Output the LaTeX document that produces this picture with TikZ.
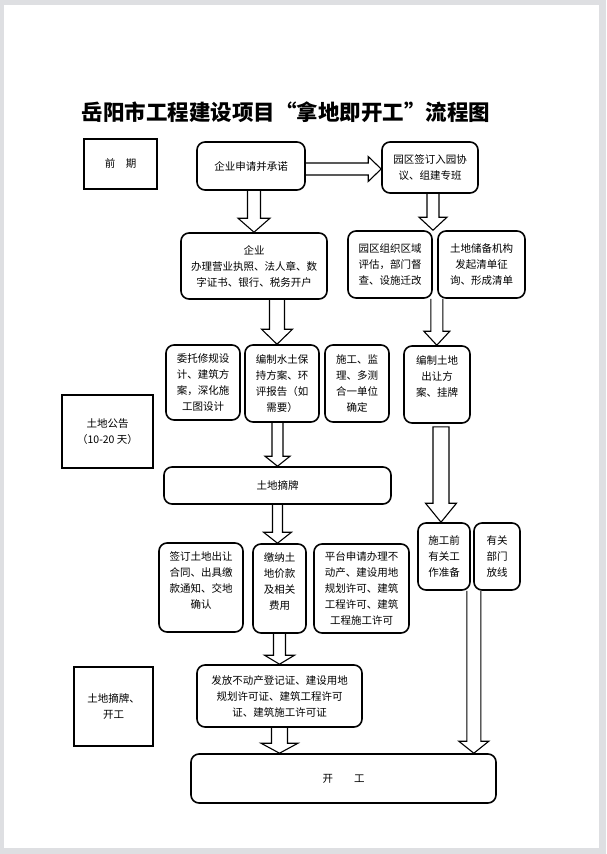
\documentclass[tikz,border=0pt]{standalone}
\usepackage{fontspec}
\setmainfont{Noto Sans CJK SC}
\usetikzlibrary{calc}
\definecolor{pageframe}{RGB}{222,223,226}
\tikzset{
  txt/.style={font=\fontsize{10.5}{16}\selectfont},
  rbox/.style={draw, line width=1.6pt, rounded corners=8pt, align=center, inner sep=0pt, txt},
  sbox/.style={draw, line width=1.4pt, align=center, inner sep=0pt, txt},
  wh/.style 2 args={minimum width=#1pt, minimum height=#2pt},
  blockarr/.style={draw, line width=1.1pt, line join=miter},
}
% text raised inside its box, box extent unchanged
\newcommand\upt[2]{\raisebox{#1}[\height][\depth]{\begin{tabular}{@{}c@{}}#2\end{tabular}}}
% vertical block arrow: start, tip, shaft half width, head half width, head length
\newcommand\vblk[6][]{%
  \draw[blockarr,#1] let \p1=(#2), \p2=(#3) in
  (\x1-#4pt,\y1) -- (\x1-#4pt,\y2+#6pt) -- (\x1-#5pt,\y2+#6pt) -- (\x1,\y2)
  -- (\x1+#5pt,\y2+#6pt) -- (\x1+#4pt,\y2+#6pt) -- (\x1+#4pt,\y1);}
\newcommand\vblkc[6][]{%
  \draw[blockarr,#1] let \p1=(#2), \p2=(#3) in
  (\x1-#4pt,\y1) -- (\x1-#4pt,\y2+#6pt) -- (\x1-#5pt,\y2+#6pt) -- (\x1,\y2)
  -- (\x1+#5pt,\y2+#6pt) -- (\x1+#4pt,\y2+#6pt) -- (\x1+#4pt,\y1) -- cycle;}
% horizontal block arrow
\newcommand\hblk[6][]{%
  \draw[blockarr,#1] let \p1=(#2), \p2=(#3) in
  (\x1,\y1+#4pt) -- (\x2-#6pt,\y1+#4pt) -- (\x2-#6pt,\y1+#5pt) -- (\x2,\y1)
  -- (\x2-#6pt,\y1-#5pt) -- (\x2-#6pt,\y1-#4pt) -- (\x1,\y1-#4pt);}
\begin{document}
\begin{tikzpicture}[x=1pt,y=-1pt]
\useasboundingbox (0,0) rectangle (606,854);
\fill[pageframe] (0,0) rectangle (606,854);
\fill[white] (4,5) rectangle (599,848);

\node[font=\fontsize{21.5}{24}\selectfont\bfseries] (title) at (286,112) {岳阳市工程建设项目“拿地即开工”流程图};

% left stage labels
\node[sbox, wh={73}{50}] (qq) at (120.5,164) {前\hspace{1em}期};
\node[sbox, wh={91}{73}] (tg) at (107.5,431.5) {土地公告\\（10-20 天）};
\node[sbox, wh={79}{79}] (zk) at (113.5,706.5) {土地摘牌、\\开工};

% row 1
\node[rbox, wh={108}{48}] (req) at (251,166) {企业申请并承诺};
\node[rbox, wh={96}{51}] (park) at (430,167.5) {园区签订入园协\\议、组建专班};

% row 2
\node[rbox, wh={146}{66}] (qy) at (254,266) {企业\\办理营业执照、法人章、数\\字证书、银行、税务开户};
\node[rbox, wh={84}{67}] (zone) at (390,264.5) {园区组织区域\\评估，部门督\\查、设施迁改};
\node[rbox, wh={87}{67}] (store) at (481.5,264.5) {土地储备机构\\发起清单征\\询、形成清单};

% row 3
\node[rbox, wh={74}{75}] (wt) at (203,382.5) {委托修规设\\计、建筑方\\案，深化施\\工图设计};
\node[rbox, wh={74}{77}] (sb) at (282,383.5) {编制水土保\\持方案、环\\评报告（如\\需要）};
\node[rbox, wh={64}{77}] (sj) at (357,383.5) {施工、监\\理、多测\\合一单位\\确定};
\node[rbox, wh={66}{77}] (cr) at (437,384.5) {\upt{7pt}{编制土地\\出让方\\案、挂牌}};

% row 4
\node[rbox, wh={227}{37}] (zp) at (277.5,485.5) {土地摘牌};

% row 5
\node[rbox, wh={84}{89}] (qd) at (201,587.5) {\upt{6pt}{签订土地出让\\合同、出具缴\\款通知、交地\\确认}};
\node[rbox, wh={53}{89}] (jn) at (279.5,588.5) {\upt{6pt}{缴纳土\\地价款\\及相关\\费用}};
\node[rbox, wh={95}{89}] (pt) at (361.5,588.5) {平台申请办理不\\动产、建设用地\\规划许可、建筑\\工程许可、建筑\\工程施工许可};
\node[rbox, wh={52}{67}] (sg) at (444,556.5) {施工前\\有关工\\作准备};
\node[rbox, wh={46}{67}] (fx) at (497,556.5) {有关\\部门\\放线};

% row 6
\node[rbox, wh={165}{62}] (ff) at (279.5,696) {发放不动产登记证、建设用地\\规划许可证、建筑工程许可\\证、建筑施工许可证};
\node[rbox, wh={305}{49}] (kg) at (343.5,778.5) {开\hspace{2em}工};

% block arrows
\hblk{[yshift=-3pt]req.east}{park.west}{6}{12.5}{13}
\vblk{[xshift=3pt]req.south}{qy.north}{6.5}{16}{14}
\vblk{[xshift=3pt]park.south}{zone.north}{6}{14}{13}
\vblk{[xshift=23pt]qy.south}{sb.north}{7.5}{15.5}{15}
\vblk{[xshift=4pt]zone.south east}{cr.north}{6}{13}{14}
\vblk{[xshift=-4.5pt]sb.south}{zp.north}{5.5}{12.5}{10}
\vblkc{[xshift=4pt,yshift=-3pt]cr.south}{sg.north}{8}{15.5}{19}
\vblk{zp.south}{jn.north}{5}{14}{11}
\vblk{jn.south}{ff.north}{6}{15}{9}
\vblk{ff.south}{kg.north}{8}{18.5}{10}
\vblk{[xshift=3pt]sg.south east}{kg.north}{7}{15}{12}
\end{tikzpicture}
\end{document}
